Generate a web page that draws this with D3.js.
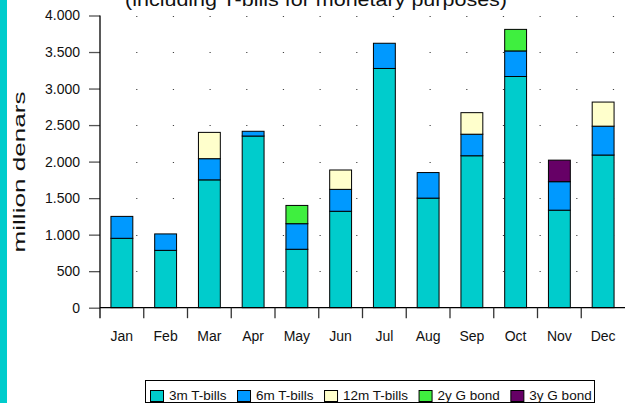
<!DOCTYPE html>
<html lang="en">
<head>
<meta charset="utf-8">
<script src="https://d3js.org/d3.v7.min.js"></script>
<style>
  body { margin: 0; background: #fff; }
  svg { display: block; font-family: "Liberation Sans", Arial, sans-serif; }
  .tick-label { font-size: 14px; fill: #111; }
  .legend text { font-size: 13.5px; fill: #111; }
</style>
</head>
<body>
<div id="chart"></div>
<script>
// data (million denars)
var months = ["Jan", "Feb", "Mar", "Apr", "May", "Jun", "Jul", "Aug", "Sep", "Oct", "Nov", "Dec"];
var series = ["3m T-bills", "6m T-bills", "12m T-bills", "2y G bond", "3y G bond"];
var bills3m  = [950, 785, 1750, 2350, 800, 1320, 3275, 1500, 2080, 3165, 1335, 2090];
var bills6m  = [300, 225, 290, 65, 350, 300, 345, 350, 295, 350, 390, 395];
var bills12m = [0, 0, 360, 0, 0, 265, 0, 0, 295, 0, 0, 330];
var bond2y   = [0, 0, 0, 0, 250, 0, 0, 0, 0, 295, 0, 0];
var bond3y   = [0, 0, 0, 0, 0, 0, 0, 0, 0, 0, 295, 0];
var yTicks = [0, 500, 1000, 1500, 2000, 2500, 3000, 3500, 4000];
var colors = ["#00cccc", "#0099ff", "#ffffcc", "#3fef3f", "#660066"];

var W = 627, H = 403;
var plotLeft = 100, plotRight = 625, plotTop = 15.5, plotBottom = 307.7;

var table = months.map(function(m, i) {
    var row = { month: m };
    row[series[0]] = bills3m[i];
    row[series[1]] = bills6m[i];
    row[series[2]] = bills12m[i];
    row[series[3]] = bond2y[i];
    row[series[4]] = bond3y[i];
    return row;
});

var svg = d3.select("#chart").append("svg")
    .attr("width", W)
    .attr("height", H);

// cyan strip on the left edge
svg.append("rect").attr("x", 0).attr("y", 0).attr("width", 7).attr("height", H).attr("fill", "#00cccc");

var x = d3.scaleBand()
    .domain(months)
    .range([plotLeft, plotRight])
    .paddingInner(0.5)
    .paddingOuter(0.25);

var y = d3.scaleLinear()
    .domain([0, 4000])
    .range([plotBottom, plotTop]);

var color = d3.scaleOrdinal().domain(series).range(colors);

// dotted grid
svg.append("g")
    .selectAll("line")
    .data(yTicks.filter(function(d) { return d > 0; }))
    .enter().append("line")
    .attr("x1", plotLeft + 36.17)
    .attr("x2", plotRight)
    .attr("y1", function(d) { return Math.round(y(d)) + 0.5; })
    .attr("y2", function(d) { return Math.round(y(d)) + 0.5; })
    .attr("stroke", "#444")
    .attr("stroke-width", 1.2)
    .attr("stroke-dasharray", "1.2,35.47");

// stacked bars
var stacked = d3.stack().keys(series)(table);

svg.append("g")
    .selectAll("g")
    .data(stacked)
    .enter().append("g")
    .attr("fill", function(d) { return color(d.key); })
    .selectAll("rect")
    .data(function(d) { return d.filter(function(s) { return s[1] - s[0] > 0; }); })
    .enter().append("rect")
    .attr("x", function(d) { return x(d.data.month); })
    .attr("y", function(d) { return y(d[1]); })
    .attr("width", x.bandwidth())
    .attr("height", function(d) { return y(d[0]) - y(d[1]); })
    .attr("stroke", "#000")
    .attr("stroke-width", 1);

// y axis
var yAxis = svg.append("g")
    .attr("transform", "translate(" + plotLeft + ",0)")
    .call(d3.axisLeft(y).tickValues(yTicks).tickSize(11).tickPadding(9)
        .tickFormat(function(d) { return d3.format(",")(d).replace(",", "."); }));
yAxis.select(".domain").remove();
yAxis.attr("font-size", null).attr("font-family", null);
yAxis.selectAll(".tick line").attr("stroke", "#555").attr("stroke-width", 1.3);
yAxis.selectAll(".tick text").attr("class", "tick-label");
svg.append("line")
    .attr("x1", plotLeft).attr("x2", plotLeft)
    .attr("y1", plotTop).attr("y2", plotBottom + 10.5)
    .attr("stroke", "#000").attr("stroke-width", 1.3);

// x axis
svg.append("line")
    .attr("x1", plotLeft).attr("x2", plotRight)
    .attr("y1", plotBottom).attr("y2", plotBottom)
    .attr("stroke", "#000").attr("stroke-width", 1.3);
svg.append("g")
    .selectAll("line")
    .data(months.slice(1))
    .enter().append("line")
    .attr("x1", function(d) { return x(d) - x.step() * x.paddingInner() / 2; })
    .attr("x2", function(d) { return x(d) - x.step() * x.paddingInner() / 2; })
    .attr("y1", plotBottom)
    .attr("y2", plotBottom + 10.5)
    .attr("stroke", "#333")
    .attr("stroke-width", 1.3);
svg.append("g")
    .selectAll("text")
    .data(months)
    .enter().append("text")
    .attr("class", "tick-label")
    .attr("x", function(d) { return x(d) + x.bandwidth() / 2; })
    .attr("y", 341)
    .attr("text-anchor", "middle")
    .text(function(d) { return d; });

// axis title
svg.append("text")
    .attr("transform", "translate(25,172) rotate(-90)")
    .attr("text-anchor", "middle")
    .attr("font-size", 16.5)
    .attr("fill", "#111")
    .attr("textLength", 161)
    .attr("lengthAdjust", "spacingAndGlyphs")
    .text("million denars");

// chart title (cut off at the top)
svg.append("text")
    .attr("x", 316)
    .attr("y", 5.5)
    .attr("text-anchor", "middle")
    .attr("font-size", 19)
    .attr("fill", "#111")
    .attr("textLength", 382)
    .attr("lengthAdjust", "spacingAndGlyphs")
    .text("(including T-bills for monetary purposes)");

// legend
var legend = svg.append("g").attr("class", "legend");
legend.append("rect")
    .attr("x", 145.5).attr("y", 380.5)
    .attr("width", 449).attr("height", 22)
    .attr("fill", "#fff").attr("stroke", "#000").attr("stroke-width", 1);

var lx = 150;
series.forEach(function(s) {
    var item = legend.append("g").attr("transform", "translate(" + lx + ",0)");
    item.append("rect")
        .attr("x", 0.5).attr("y", 390.5)
        .attr("width", 13).attr("height", 11)
        .attr("fill", color(s)).attr("stroke", "#000");
    var t = item.append("text")
        .attr("x", 19).attr("y", 399.5)
        .text(s);
    lx += 19 + t.node().getComputedTextLength() + 10.5;
});
</script>
</body>
</html>
